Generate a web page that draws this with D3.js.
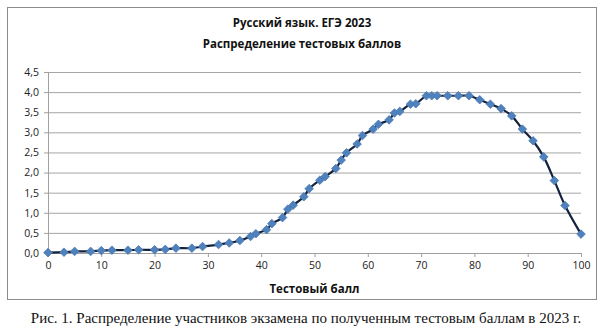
<!DOCTYPE html>
<html>
<head>
<meta charset="utf-8">
<title>Русский язык. ЕГЭ 2023</title>
<script src="https://d3js.org/d3.v7.min.js"></script>
<style>
body { margin: 0; background: #fff; }
.axis text { font-family: "Open Sans", sans-serif; font-size: 10.5px; fill: #222; }
.axis path, .axis line { stroke: #a0a0a0; }
.grid line { stroke: #a6a6a6; stroke-width: 1px; }
.grid path { display: none; }
.title { font-family: "Open Sans", sans-serif; font-weight: bold; font-size: 11.5px; fill: #111; }
.caption { font-family: "Liberation Serif", serif; font-size: 15px; fill: #111; }
</style>
</head>
<body>
<div id="chart"></div>
<script>
// test score (x) and share of participants, % (y)
var scores = [0,3,5,8,10,12,15,17,20,22,24,27,29,32,34,36,38,39,41,42,44,45,46,48,49,51,52,54,55,56,58,59,61,62,64,65,66,68,69,71,72,73,75,77,79,81,83,85,87,89,91,93,95,97,100];
var shares = [0.01,0.02,0.04,0.04,0.06,0.07,0.07,0.08,0.08,0.09,0.12,0.12,0.16,0.21,0.25,0.31,0.41,0.48,0.58,0.73,0.88,1.09,1.19,1.40,1.60,1.81,1.90,2.10,2.31,2.49,2.71,2.92,3.08,3.20,3.31,3.48,3.52,3.70,3.71,3.91,3.91,3.91,3.91,3.91,3.91,3.81,3.70,3.59,3.41,3.08,2.79,2.39,1.80,1.18,0.47];
var xTicks = [0,10,20,30,40,50,60,70,80,90,100];
var yTicks = [0,0.5,1,1.5,2,2.5,3,3.5,4,4.5];

var W = 604, H = 328;
var margin = { top: 72, right: 23, bottom: 75, left: 48 };
var width = W - margin.left - margin.right;
var height = H - margin.top - margin.bottom;

var svg = d3.select("#chart").append("svg")
  .attr("width", W)
  .attr("height", H);

// chart frame
svg.append("rect")
  .attr("x", 7.5).attr("y", 7.5)
  .attr("width", 589).attr("height", 292)
  .attr("fill", "#fff")
  .attr("stroke", "#8c8c8c")
  .attr("stroke-width", 1);

svg.append("text").attr("class", "title")
  .attr("x", 302).attr("y", 27)
  .attr("text-anchor", "middle")
  .text("Русский язык. ЕГЭ 2023");
svg.append("text").attr("class", "title")
  .attr("x", 302).attr("y", 48)
  .attr("text-anchor", "middle")
  .text("Распределение тестовых баллов");

var g = svg.append("g")
  .attr("transform", "translate(" + margin.left + "," + margin.top + ")");

var x = d3.scaleLinear().domain([0, 100]).range([0, width]);
var y = d3.scaleLinear().domain([0, 4.5]).range([height, 0]);

g.append("g")
  .attr("class", "grid")
  .call(d3.axisLeft(y).tickValues(yTicks.slice(1)).tickSize(-width).tickFormat(""));

g.append("g")
  .attr("class", "y axis")
  .call(d3.axisLeft(y).tickValues(yTicks).tickSize(4).tickPadding(5)
    .tickFormat(function(d) { return d3.format(".1f")(d).replace(".", ","); }));

g.append("g")
  .attr("class", "x axis")
  .attr("transform", "translate(0," + height + ")")
  .call(d3.axisBottom(x).tickValues(xTicks).tickSize(4).tickPadding(5));

g.selectAll(".axis .domain").attr("stroke", "#a0a0a0");

var data = scores.map(function(s, i) { return { x: s, y: shares[i] }; });

var line = d3.line()
  .x(function(d) { return x(d.x); })
  .y(function(d) { return y(d.y); })
  .curve(d3.curveCatmullRom);

g.append("path")
  .datum(data)
  .attr("fill", "none")
  .attr("stroke", "#14233d")
  .attr("stroke-width", 2.2)
  .attr("d", line);

var r = 4.3;
g.selectAll(".marker")
  .data(data)
  .enter().append("path")
  .attr("class", "marker")
  .attr("transform", function(d) { return "translate(" + x(d.x) + "," + y(d.y) + ")"; })
  .attr("d", "M0," + (-r) + "L" + r + ",0L0," + r + "L" + (-r) + ",0Z")
  .attr("fill", "#4f81bd")
  .attr("stroke", "#4a7ab5")
  .attr("stroke-width", 0.8);

svg.append("text").attr("class", "title")
  .attr("x", margin.left + width / 2).attr("y", 293)
  .attr("text-anchor", "middle")
  .text("Тестовый балл");

svg.append("text").attr("class", "caption")
  .attr("x", 306).attr("y", 323)
  .attr("text-anchor", "middle")
  .text("Рис. 1. Распределение участников экзамена по полученным тестовым баллам в 2023 г.");
</script>
</body>
</html>
